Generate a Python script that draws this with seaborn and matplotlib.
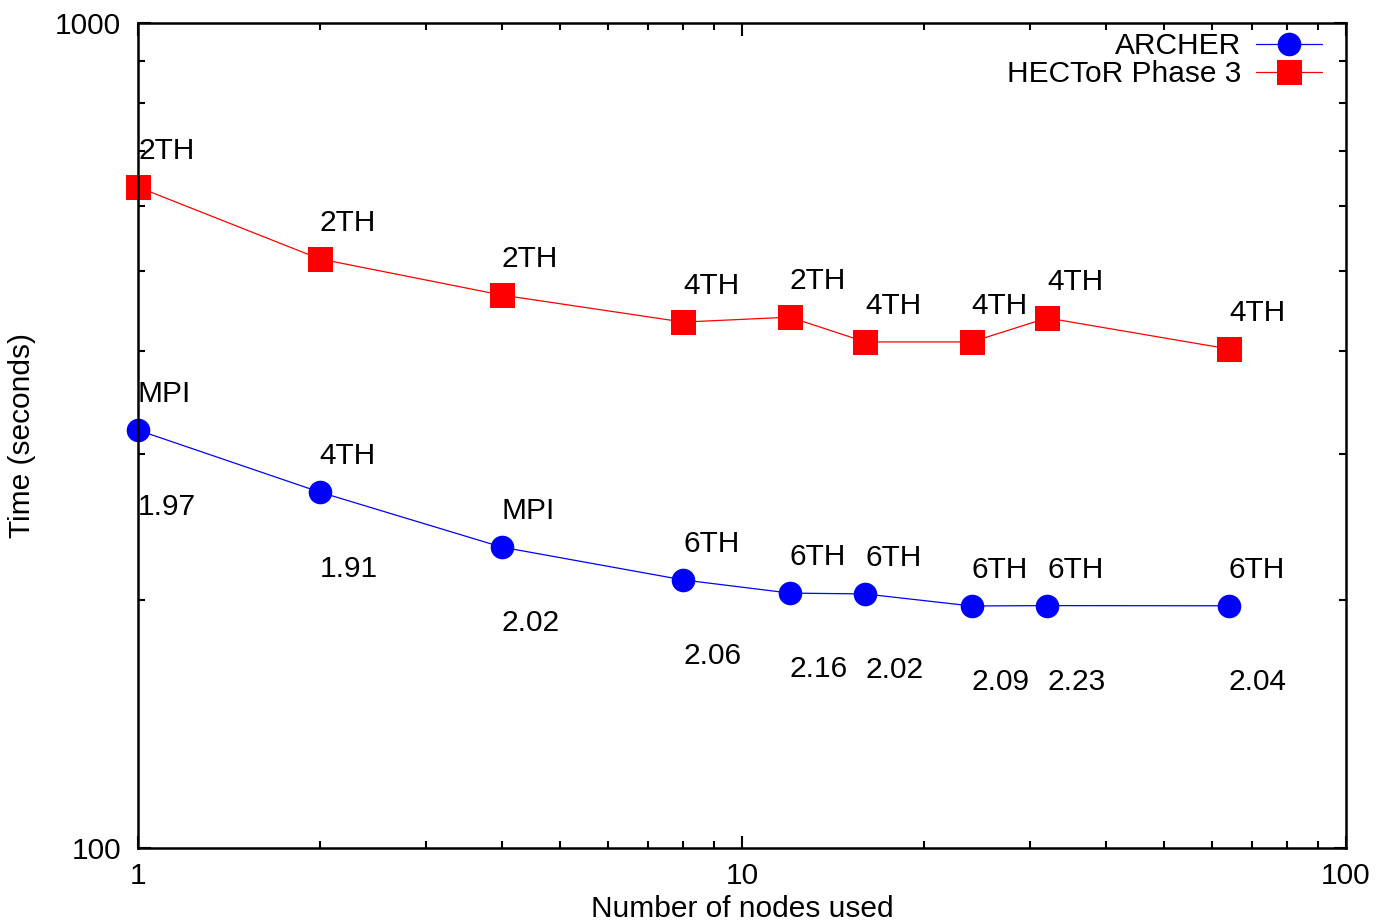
import matplotlib
matplotlib.use("Agg")
import matplotlib.pyplot as plt
import seaborn as sns
import pandas as pd
import numpy as np
from matplotlib.ticker import LogLocator, NullFormatter, FixedLocator, FixedFormatter

nodes = [1, 2, 4, 8, 12, 16, 24, 32, 64]
archer = [321, 270, 231.6, 211.3, 203.7, 203.2, 196.5, 196.7, 196.6]
hector = [632.6, 517.6, 468, 434, 440, 410.6, 410.6, 439, 402.6]
archer_labels = ["MPI", "4TH", "MPI", "6TH", "6TH", "6TH", "6TH", "6TH", "6TH"]
archer_ratios = ["1.97", "1.91", "2.02", "2.06", "2.16", "2.02", "2.09", "2.23", "2.04"]
hector_labels = ["2TH", "2TH", "2TH", "4TH", "2TH", "4TH", "4TH", "4TH", "4TH"]

sns.set_style("ticks")
plt.rcParams["font.family"] = ["Liberation Sans", "DejaVu Sans"]
plt.rcParams["text.color"] = "black"
plt.rcParams["axes.labelcolor"] = "black"
plt.rcParams["xtick.color"] = "black"
plt.rcParams["ytick.color"] = "black"
plt.rcParams["xtick.labelcolor"] = "black"
plt.rcParams["ytick.labelcolor"] = "black"
FS = 21.5

fig = plt.figure(figsize=(13.79, 9.21), dpi=100)
ax = fig.add_axes([138 / 1379, 1 - 848 / 921, (1346 - 138) / 1379, (848 - 23) / 921])

df_a = pd.DataFrame({"nodes": nodes, "time": archer})
df_h = pd.DataFrame({"nodes": nodes, "time": hector})

sns.lineplot(data=df_a, x="nodes", y="time", ax=ax, color="#0000ff", marker="o",
             markersize=17, markeredgewidth=0, linewidth=0.9, label="ARCHER", clip_on=False)
sns.lineplot(data=df_h, x="nodes", y="time", ax=ax, color="#ff0000", marker="s",
             markersize=18, markeredgewidth=0, linewidth=0.9, label="HECToR Phase 3", clip_on=False)

ax.set_xscale("log")
ax.set_yscale("log")
ax.set_xlim(1, 100)
ax.set_ylim(100, 1000)

ax.xaxis.set_major_locator(FixedLocator([1, 10, 100]))
ax.xaxis.set_major_formatter(FixedFormatter(["1", "10", "100"]))
ax.xaxis.set_minor_locator(LogLocator(base=10, subs=np.arange(2, 10)))
ax.xaxis.set_minor_formatter(NullFormatter())
ax.yaxis.set_major_locator(FixedLocator([100, 1000]))
ax.yaxis.set_major_formatter(FixedFormatter(["100", "1000"]))
ax.yaxis.set_minor_locator(LogLocator(base=10, subs=np.arange(2, 10)))
ax.yaxis.set_minor_formatter(NullFormatter())

ax.tick_params(which="both", direction="in", top=True, right=True, width=1.5,
               color="black", labelcolor="black")
ax.tick_params(which="major", length=9, labelsize=FS, pad=10)
ax.tick_params(axis="y", which="major", pad=12)
ax.tick_params(which="minor", length=5)
for s in ax.spines.values():
    s.set_visible(True)
    s.set_linewidth(1.8)
    s.set_color("black")

ax.set_xlabel("Number of nodes used", fontsize=FS, labelpad=4, color="black")
ax.set_ylabel("Time (seconds)", fontsize=FS, labelpad=14, color="black")
ax.grid(False)

for x, y, t in zip(nodes, hector, hector_labels):
    ax.annotate(t, (x, y), xytext=(0, 26), textcoords="offset points",
                ha="left", va="center", fontsize=FS, color="black")
for x, y, t, r in zip(nodes, archer, archer_labels, archer_ratios):
    ax.annotate(t, (x, y), xytext=(0, 26), textcoords="offset points",
                ha="left", va="center", fontsize=FS, color="black")
    ax.annotate(r, (x, y), xytext=(0, -55), textcoords="offset points",
                ha="left", va="center", fontsize=FS, color="black")

leg = ax.legend(loc="upper right", frameon=False, fontsize=FS, markerfirst=False,
                handlelength=2.2, labelspacing=0.0, borderaxespad=0.0,
                handletextpad=0.5, bbox_to_anchor=(0.99, 1.003))
for txt in leg.get_texts():
    txt.set_ha("right")
    txt.set_color("black")

fig.savefig("out.png", dpi=100)
